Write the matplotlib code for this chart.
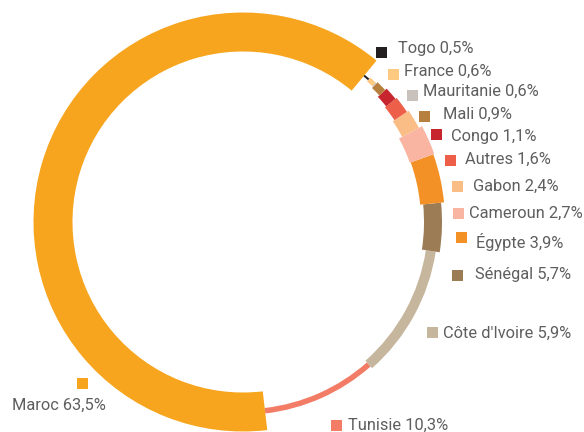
import matplotlib.pyplot as plt
from matplotlib.patches import Wedge, Rectangle

plt.rcParams['font.family'] = ['Roboto', 'DejaVu Sans']

# pays dans l'ordre de l'anneau (sens anti-horaire depuis le haut droit)
pays = ['Maroc', 'Tunisie', "Côte d'Ivoire", 'Sénégal', 'Égypte', 'Cameroun',
        'Gabon', 'Autres', 'Congo', 'Mali', 'Mauritanie', 'France', 'Togo']
parts = ['63,5%', '10,3%', '5,9%', '5,7%', '3,9%', '2,7%',
         '2,4%', '1,6%', '1,1%', '0,9%', '0,6%', '0,6%', '0,5%']
# longueur des arcs telle que dessinée sur l'anneau (%)
arcs = [63.1, 9.7, 11.1, 4.0, 3.9, 2.4, 1.6, 1.4, 1.1, 0.9, 0.1, 0.6, 0.5]
# épaisseur de chaque arc (px)
epais = [39, 5.5, 10, 18, 24, 26, 19, 15, 12, 8, 5, 5, 2]
couleurs = ['#f7a51e', '#f27c66', '#c6b69d', '#9c7c55', '#f39126', '#f9b5a1',
            '#fbbd86', '#ee5f4a', '#c7262f', '#b8803f', '#c9c1bb', '#fec980',
            '#231f20']

# position des étiquettes (pixels image) : carré puis texte
pos_carre = [(82, 383), (336, 425), (432, 332), (457, 275), (461, 237),
             (458, 213), (457, 186), (450, 160), (436, 134), (424, 116),
             (412, 95), (393, 74), (381, 52)]
pos_texte = [(12, 405), (348, 425), (443, 333), (475, 274), (476, 242),
             (469, 213), (473, 186), (465, 159), (451, 136), (443, 114),
             (423, 91), (404, 71), (398, 48)]

W, H = 584, 432
fig = plt.figure(figsize=(5.84, 4.32), dpi=100)
ax = fig.add_axes([0, 0, 1, 1])
ax.set_xlim(0, W)
ax.set_ylim(0, H)
ax.set_aspect('equal')
ax.axis('off')

cx, cy, R = 243, H - 222, 190
debut = 50.4
total = sum(arcs)
a = debut
for v, w, c in zip(arcs, epais, couleurs):
    span = v / total * 360
    ax.add_patch(Wedge((cx, cy), R + w / 2, a, a + span, width=w,
                       facecolor=c, edgecolor='none'))
    a += span

for nom, p, c, (sx, sy), (tx, ty) in zip(pays, parts, couleurs, pos_carre, pos_texte):
    ax.add_patch(Rectangle((sx - 5.5, H - sy - 5.5), 11, 11, facecolor=c, edgecolor='none'))
    ax.text(tx, H - ty, nom + ' ' + p, fontsize=11.8, color='#5e5e5e',
            ha='left', va='center')

fig.savefig('out.png', dpi=100)
